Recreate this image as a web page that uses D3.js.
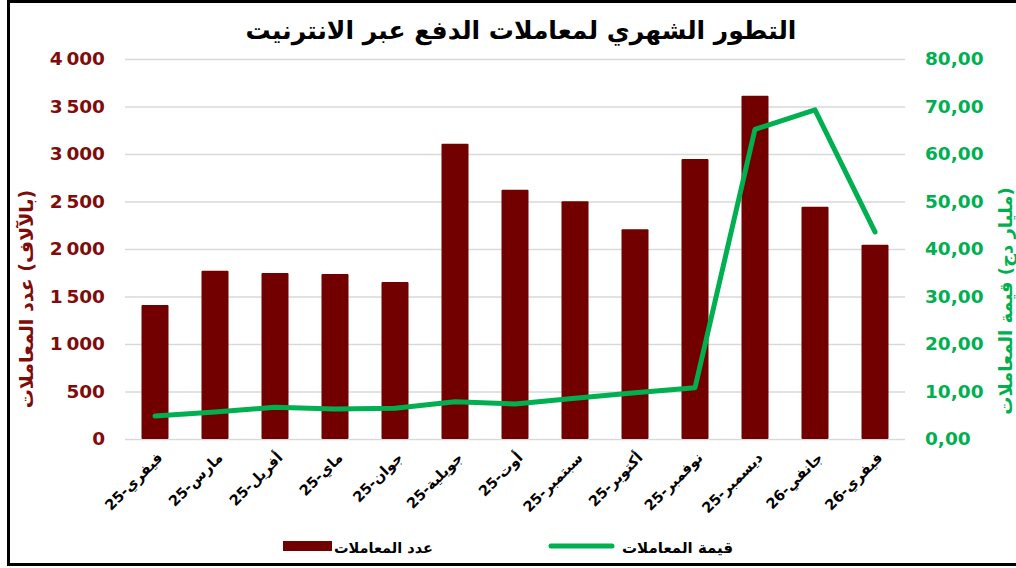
<!DOCTYPE html>
<html>
<head>
<meta charset="utf-8">
<script src="https://cdn.jsdelivr.net/npm/d3@7"></script>
<style>
  body { margin: 0; background: #fff; }
  svg { display: block; }
  text { font-family: "DejaVu Sans", sans-serif; }
</style>
</head>
<body>
<div id="chart"></div>
<script>
// monthly online payment transactions
const months = ['فيفري-25', 'مارس-25', 'أفريل-25', 'ماي-25', 'جوان-25', 'جويلية-25', 'أوت-25',
  'سبتمبر-25', 'أكتوبر-25', 'نوفمبر-25', 'ديسمبر-25', 'جانفي-26', 'فيفري-26'];
const counts = [1410, 1770, 1747, 1737, 1653, 3108, 2624, 2502, 2207, 2947, 3614, 2445, 2045]; // thousands
const amounts = [4.84, 5.7, 6.67, 6.3, 6.46, 7.85, 7.37, 8.57, 9.75, 10.8, 65.2, 69.3, 43.6]; // billion DZD
const leftTicks = [0, 500, 1000, 1500, 2000, 2500, 3000, 3500, 4000];
const rightTicks = [0, 10, 20, 30, 40, 50, 60, 70, 80];

const title = 'التطور الشهري لمعاملات الدفع عبر الانترنيت';
const leftTitle = '(بالآلاف) عدد المعاملات';
const rightTitle = '(مليار دج) قيمة المعاملات';
const barName = 'عدد المعاملات';
const lineName = 'قيمة المعاملات';

const W = 1016, H = 568;
const margin = { top: 59, right: 111, bottom: 129, left: 125 };
const width = W - margin.left - margin.right;
const height = H - margin.top - margin.bottom;

const barColor = '#730000';
const lineColor = '#00b050';
const leftColor = '#7f0b0b';

const loc = d3.formatLocale({ decimal: ',', thousands: '\u202f', grouping: [3], currency: ['', ''] });
const fmtLeft = loc.format(',d');
const fmtRight = loc.format('.2f');

const svg = d3.select('#chart').append('svg')
  .attr('width', W)
  .attr('height', H);

// frame
svg.append('rect')
  .attr('x', 8.5).attr('y', 1.5)
  .attr('width', W + 20).attr('height', 563)
  .attr('fill', 'none')
  .attr('stroke', '#000')
  .attr('stroke-width', 3);

svg.append('text')
  .attr('x', 521).attr('y', 39)
  .attr('direction', 'rtl')
  .attr('text-anchor', 'middle')
  .attr('font-size', 25)
  .attr('font-weight', 'bold')
  .attr('fill', '#000')
  .text(title);

const chart = svg.append('g')
  .attr('transform', `translate(${margin.left}, ${margin.top})`);

const x = d3.scaleBand().domain(months).range([0, width]).paddingInner(0.55).paddingOuter(0.275);
const yLeft = d3.scaleLinear().domain([0, 4000]).range([height, 0]);
const yRight = d3.scaleLinear().domain([0, 80]).range([height, 0]);

// left axis + gridlines
const gLeft = chart.append('g')
  .call(d3.axisLeft(yLeft).tickValues(leftTicks).tickFormat(fmtLeft)
    .tickSizeInner(-width).tickSizeOuter(0).tickPadding(20));
gLeft.select('.domain').remove();
gLeft.selectAll('line').attr('stroke', '#d9d9d9').attr('stroke-width', 1.5);
gLeft.selectAll('text')
  .attr('fill', leftColor)
  .attr('font-size', 18.5)
  .attr('font-weight', 'bold')
  .attr('font-family', '"DejaVu Sans", sans-serif');

// right axis
const gRight = chart.append('g')
  .attr('transform', `translate(${width}, 0)`)
  .call(d3.axisRight(yRight).tickValues(rightTicks).tickFormat(fmtRight)
    .tickSize(0).tickPadding(20));
gRight.select('.domain').remove();
gRight.selectAll('text')
  .attr('fill', lineColor)
  .attr('font-size', 18.5)
  .attr('font-weight', 'bold')
  .attr('font-family', '"DejaVu Sans", sans-serif');

// x axis labels
const gX = chart.append('g')
  .attr('transform', `translate(0, ${height})`)
  .call(d3.axisBottom(x).tickSize(0));
gX.select('.domain').remove();
gX.selectAll('text')
  .attr('x', 0).attr('y', 0).attr('dy', '0.35em')
  .attr('transform', 'translate(5, 16) rotate(-45)')
  .style('text-anchor', 'end')
  .attr('fill', '#000')
  .attr('font-size', 14.5)
  .attr('font-weight', 'bold')
  .attr('font-family', '"DejaVu Sans", sans-serif');

// bars
chart.selectAll('.bar')
  .data(counts)
  .enter().append('rect')
  .attr('class', 'bar')
  .attr('x', (d, i) => x(months[i]))
  .attr('y', (d) => yLeft(d))
  .attr('width', x.bandwidth())
  .attr('height', (d) => height - yLeft(d))
  .attr('rx', 1)
  .attr('fill', barColor);

// line
const line = d3.line()
  .x((d, i) => x(months[i]) + x.bandwidth() / 2)
  .y((d) => yRight(d));

chart.append('path')
  .datum(amounts)
  .attr('d', line)
  .attr('fill', 'none')
  .attr('stroke', lineColor)
  .attr('stroke-width', 5)
  .attr('stroke-linejoin', 'round')
  .attr('stroke-linecap', 'round');

// axis titles
svg.append('text')
  .attr('transform', 'translate(33, 299) rotate(-90)')
  .attr('direction', 'rtl')
  .attr('text-anchor', 'middle')
  .attr('font-size', 19)
  .attr('font-weight', 'bold')
  .attr('fill', leftColor)
  .text(leftTitle);

svg.append('text')
  .attr('transform', 'translate(1012, 301) rotate(-90)')
  .attr('direction', 'rtl')
  .attr('text-anchor', 'middle')
  .attr('font-size', 18)
  .attr('font-weight', 'bold')
  .attr('fill', lineColor)
  .text(rightTitle);

// legend
const legend = svg.append('g');
legend.append('rect')
  .attr('x', 283).attr('y', 541)
  .attr('width', 49).attr('height', 10)
  .attr('fill', barColor);
legend.append('text')
  .attr('x', 433).attr('y', 553)
  .attr('text-anchor', 'end')
  .attr('font-size', 14.5)
  .attr('font-weight', 'bold')
  .attr('fill', '#000')
  .text(barName);
legend.append('line')
  .attr('x1', 551).attr('x2', 612)
  .attr('y1', 546).attr('y2', 546)
  .attr('stroke', lineColor)
  .attr('stroke-width', 5)
  .attr('stroke-linecap', 'round');
legend.append('text')
  .attr('x', 733).attr('y', 553)
  .attr('text-anchor', 'end')
  .attr('font-size', 15)
  .attr('font-weight', 'bold')
  .attr('fill', '#000')
  .text(lineName);
</script>
</body>
</html>
